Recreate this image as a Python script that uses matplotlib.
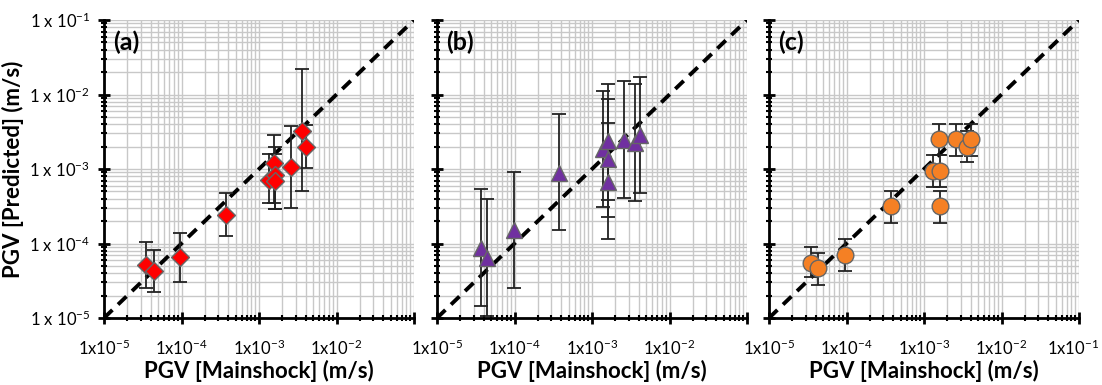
import numpy as np
import matplotlib.pyplot as plt
import matplotlib.transforms as mtransforms
from matplotlib.ticker import LogLocator, NullFormatter

plt.rcParams['font.family'] = ['Lato', 'DejaVu Sans']
plt.rcParams['mathtext.default'] = 'regular'

# panel (a) - red diamonds
a_x = [3.5e-5, 4.4e-5, 9.6e-5, 3.7e-4, 1.34e-3, 1.55e-3, 1.6e-3, 1.63e-3, 2.6e-3, 3.6e-3, 4.05e-3]
a_y = [5.1e-5, 4.3e-5, 6.5e-5, 2.4e-4, 7.2e-4, 1.22e-3, 8.3e-4, 6.8e-4, 1.07e-3, 3.27e-3, 2.0e-3]
a_hi = [1.05e-4, 8.3e-5, 1.4e-4, 4.8e-4, 1.58e-3, 2.9e-3, 2.0e-3, 1.6e-3, 3.8e-3, 2.2e-2, 3.9e-3]
a_lo = [2.5e-5, 2.2e-5, 3.0e-5, 1.26e-4, 3.5e-4, 3.5e-4, 2.9e-4, 2.9e-4, 3.0e-4, 5.0e-4, 1.02e-3]

# panel (b) - purple triangles
b_x = [3.7e-5, 4.4e-5, 9.8e-5, 3.7e-4, 1.4e-3, 1.6e-3, 1.63e-3, 1.63e-3, 2.6e-3, 3.6e-3, 4.15e-3]
b_y = [8.6e-5, 6.3e-5, 1.5e-4, 8.9e-4, 1.84e-3, 2.35e-3, 1.38e-3, 6.7e-4, 2.45e-3, 2.25e-3, 2.9e-3]
b_hi = [5.4e-4, 3.9e-4, 9.0e-4, 5.4e-3, 1.12e-2, 1.38e-2, 8.7e-3, 4.2e-3, 1.54e-2, 1.38e-2, 1.74e-2]
b_lo = [1.46e-5, 1.07e-5, 2.5e-5, 1.5e-4, 3.1e-4, 3.8e-4, 2.3e-4, 1.15e-4, 4.1e-4, 3.7e-4, 4.7e-4]

# panel (c) - orange circles
c_x = [3.5e-5, 4.35e-5, 9.7e-5, 3.7e-4, 1.32e-3, 1.6e-3, 1.55e-3, 1.6e-3, 2.6e-3, 3.6e-3, 4.0e-3]
c_y = [5.5e-5, 4.7e-5, 7.1e-5, 3.15e-4, 9.5e-4, 9.5e-4, 2.5e-3, 3.15e-4, 2.5e-3, 2.0e-3, 2.5e-3]
c_hi = [9.1e-5, 7.5e-5, 1.15e-4, 5.1e-4, 1.55e-3, 1.55e-3, 4.0e-3, 5.1e-4, 4.0e-3, 3.2e-3, 4.0e-3]
c_lo = [3.5e-5, 2.8e-5, 4.3e-5, 1.9e-4, 5.7e-4, 5.7e-4, 1.55e-3, 1.9e-4, 1.5e-3, 1.23e-3, 1.5e-3]

decades = [1e-5, 1e-4, 1e-3, 1e-2, 1e-1]
x_labels = [r'1x10$^{-5}$', r'1x10$^{-4}$', r'1x10$^{-3}$', r'1x10$^{-2}$', r'1x10$^{-1}$']
y_labels = [r'1 x 10$^{-5}$', r'1 x 10$^{-4}$', r'1 x 10$^{-3}$', r'1 x 10$^{-2}$', r'1 x 10$^{-1}$']

panels = [
    ('(a)', a_x, a_y, a_hi, a_lo, 'D', '#ff0000', 9),
    ('(b)', b_x, b_y, b_hi, b_lo, '^', '#7030a0', 11),
    ('(c)', c_x, c_y, c_hi, c_lo, 'o', '#f58024', 12),
]
lefts = [104, 437, 769]

fig = plt.figure(figsize=(11.02, 3.85), dpi=100)
for i, (tag, x, y, hi, lo, mk, col, ms) in enumerate(panels):
    ax = fig.add_axes([lefts[i] / 1102, 1 - 318 / 385, 310 / 1102, 298 / 385])
    ax.set_xscale('log')
    ax.set_yscale('log')
    ax.set_xlim(1e-5, 1e-1)
    ax.set_ylim(1e-5, 1e-1)
    ax.grid(True, which='both', color='#c8c8c8', lw=1.0)
    ax.set_axisbelow(True)
    for s in ['top', 'right']:
        ax.spines[s].set_visible(False)
    for s in ['left', 'bottom']:
        ax.spines[s].set_linewidth(2)

    ax.plot(decades, decades, ls=(0, (3, 2)), color='black', lw=2.8, zorder=2)
    x = np.array(x)
    y = np.array(y)
    yerr = [y - np.array(lo), np.array(hi) - y]
    ax.errorbar(x, y, yerr=yerr, fmt='none', ecolor='#222222', elinewidth=1.3,
                capsize=5, capthick=1.3, zorder=3)
    ax.plot(x, y, ls='none', marker=mk, ms=ms, mfc=col, mec='#666666', mew=1, zorder=4)

    ax.xaxis.set_minor_locator(LogLocator(base=10, subs=np.arange(2, 10), numticks=10))
    ax.yaxis.set_minor_locator(LogLocator(base=10, subs=np.arange(2, 10), numticks=10))
    ax.set_xticks(decades)
    if i < 2:
        ax.set_xticklabels(x_labels[:4] + [''])
    else:
        ax.set_xticklabels(x_labels)
    ax.set_yticks(decades)
    if i == 0:
        ax.set_yticklabels(y_labels)
        ax.set_ylabel('PGV [Predicted] (m/s)', fontsize=16, fontweight='bold')
    else:
        ax.set_yticklabels([])
    ax.yaxis.set_minor_formatter(NullFormatter())
    ax.xaxis.set_minor_formatter(NullFormatter())
    ax.tick_params(which='major', length=8, width=2, direction='inout', labelsize=12, pad=6)
    ax.tick_params(which='minor', length=5, width=1.5, direction='inout')
    ax.tick_params(axis='x', which='major', pad=11)
    ax.set_xlabel('PGV [Mainshock] (m/s)', fontsize=16, fontweight='bold', labelpad=1)
    ax.text(0.03, 0.965, tag, transform=ax.transAxes, fontsize=18, fontweight='bold',
            va='top', ha='left')
    if i == 2:
        # nudge the last label so it stays inside the figure
        last = ax.get_xticklabels()[-1]
        last.set_transform(last.get_transform() +
                           mtransforms.ScaledTranslation(-0.06, 0, fig.dpi_scale_trans))

fig.savefig('out.png', dpi=100)
